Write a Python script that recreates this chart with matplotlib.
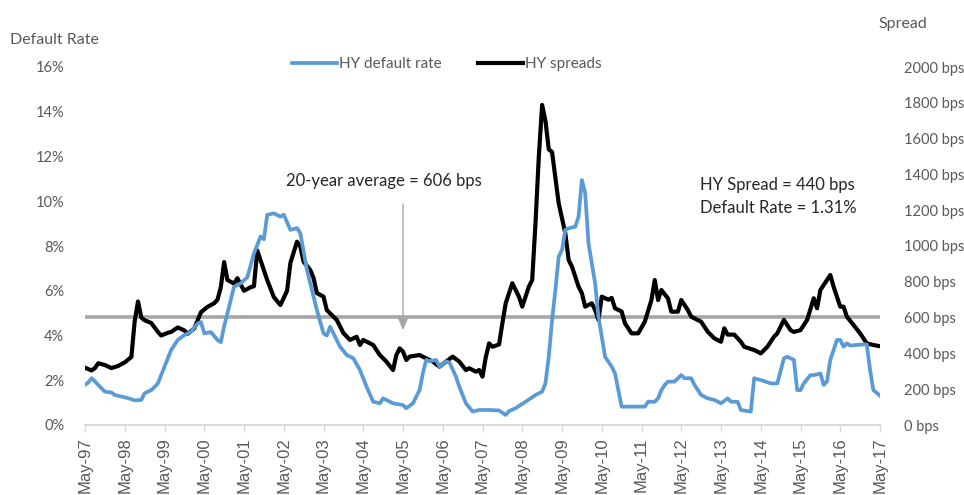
import matplotlib
matplotlib.use("Agg")
import matplotlib.pyplot as plt
from matplotlib.lines import Line2D

plt.rcParams["font.family"] = ["Lato", "DejaVu Sans"]

# Months counted from May-1997
spread_month = [0, 1, 2, 3, 4, 6, 8, 10, 12, 14, 15, 16, 17, 18, 20, 22, 23, 25, 26, 28,
                30, 31, 33, 35, 37, 39, 40, 41, 42, 43, 45, 46, 48, 50, 51, 52, 53, 55, 57, 59,
                61, 62, 64, 65, 66, 68, 69, 70, 72, 73, 76, 78, 80, 82, 83, 84, 87, 89, 91, 93,
                94, 95, 96, 97, 98, 101, 103, 105, 107, 109, 111, 113, 115, 116, 118, 119, 120, 121, 122, 123,
                125, 126, 127, 129, 131, 132, 134, 135, 136, 137, 138, 139, 140, 141, 143, 145, 146, 147, 149, 150,
                151, 153, 154, 155, 156, 158, 159, 160, 162, 163, 165, 167, 169, 171, 172, 173, 174, 176, 177, 179,
                180, 182, 183, 186, 188, 190, 192, 193, 194, 196, 198, 199, 202, 204, 206, 208, 209, 211, 213, 214,
                216, 218, 220, 221, 222, 225, 226, 228, 229, 230, 232, 234, 236, 238, 240]
spread_bps = [320, 312, 305, 318, 345, 335, 318, 330, 350, 380, 580, 690, 600, 585, 570, 520, 500, 515, 520, 545,
              528, 510, 540, 630, 660, 680, 700, 770, 910, 810, 790, 820, 750, 770, 775, 975, 920, 810, 715, 670,
              750, 905, 1024, 996, 912, 866, 821, 737, 717, 642, 587, 514, 475, 493, 447, 475, 447, 391, 354, 307,
              391, 428, 410, 363, 382, 391, 372, 354, 326, 354, 382, 354, 307, 317, 298, 307, 270, 380, 456, 437,
              450, 568, 680, 792, 717, 661, 773, 810, 1128, 1499, 1788, 1700, 1540, 1525, 1239, 1071, 922, 885, 773, 736,
              661, 680, 642, 587, 717, 700, 710, 652, 634, 568, 512, 512, 577, 698, 810, 698, 754, 707, 633, 633,
              698, 642, 605, 577, 521, 484, 465, 540, 505, 505, 465, 437, 419, 400, 437, 493, 512, 587, 530, 520,
              530, 587, 708, 652, 754, 838, 772, 661, 661, 605, 559, 512, 456, 447, 440]

default_month = [0, 1, 2, 3, 4, 6, 8, 9, 11, 13, 15, 17, 18, 20, 21, 22, 24, 26, 28, 30,
                 32, 34, 35, 36, 38, 40, 41, 42, 43, 45, 47, 49, 51, 53, 54, 55, 57, 59, 60, 62,
                 64, 65, 67, 69, 70, 72, 73, 74, 75, 77, 79, 81, 83, 85, 87, 89, 90, 93, 96, 97,
                 99, 100, 101, 102, 103, 104, 106, 107, 109, 110, 112, 113, 115, 117, 119, 122, 125, 127, 128, 130,
                 133, 136, 138, 139, 140, 141, 142, 143, 144, 145, 146, 148, 149, 150, 151, 152, 154, 155, 157, 159,
                 160, 162, 164, 169, 170, 172, 173, 174, 175, 176, 178, 180, 181, 183, 184, 186, 188, 190, 192, 194,
                 195, 197, 198, 201, 202, 204, 207, 209, 211, 212, 214, 215, 216, 217, 219, 220, 222, 223, 224, 225,
                 227, 228, 229, 230, 231, 233, 235, 236, 237, 238, 240]
default_pct = [1.80, 1.90, 2.09, 1.95, 1.79, 1.49, 1.45, 1.34, 1.27, 1.20, 1.10, 1.12, 1.42, 1.56, 1.70, 1.86, 2.61, 3.35, 3.80, 4.02,
               4.17, 4.54, 4.60, 4.10, 4.15, 3.80, 3.70, 4.40, 4.99, 6.18, 6.33, 6.60, 7.67, 8.42, 8.30, 9.39, 9.46, 9.31, 9.40, 8.72,
               8.80, 8.57, 6.93, 5.73, 5.14, 4.10, 4.00, 4.39, 4.10, 3.50, 3.13, 2.98, 2.46, 1.71, 1.04, 0.97, 1.19, 0.97, 0.89, 0.75,
               0.97, 1.27, 1.56, 2.31, 2.91, 2.85, 2.91, 2.61, 2.83, 2.80, 2.16, 1.71, 0.97, 0.60, 0.67, 0.67, 0.65, 0.45, 0.62, 0.75,
               1.04, 1.34, 1.49, 1.86, 3.05, 4.69, 6.03, 7.52, 7.82, 8.72, 8.79, 8.86, 9.31, 10.95, 10.36, 8.12, 6.33, 4.84, 3.05, 2.61,
               2.31, 0.82, 0.82, 0.82, 1.04, 1.04, 1.19, 1.56, 1.79, 1.94, 1.94, 2.23, 2.09, 2.09, 1.79, 1.34, 1.19, 1.12, 0.97, 1.19,
               1.04, 1.04, 0.67, 0.60, 2.09, 2.01, 1.86, 1.86, 2.98, 3.05, 2.91, 1.56, 1.56, 1.86, 2.23, 2.23, 2.30, 1.79, 1.95, 2.91,
               3.80, 3.80, 3.50, 3.65, 3.55, 3.58, 3.60, 3.60, 2.46, 1.56, 1.31]

average_spread = 606
tick_labels = ["May-97", "May-98", "May-99", "May-00", "May-01", "May-02", "May-03",
               "May-04", "May-05", "May-06", "May-07", "May-08", "May-09", "May-10",
               "May-11", "May-12", "May-13", "May-14", "May-15", "May-16", "May-17"]
left_ticks = [0, 2, 4, 6, 8, 10, 12, 14, 16]
right_ticks = [0, 200, 400, 600, 800, 1000, 1200, 1400, 1600, 1800, 2000]

BLUE = "#5b9bd5"
GREY_TXT = "#595959"
DARK_TXT = "#262626"
AVG_GREY = "#a6a6a6"

fig = plt.figure(figsize=(9.64, 4.95), dpi=100)
W, H = 964, 495
ax = fig.add_axes([85 / W, 1 - 425 / H, 795 / W, 358 / H])
ax2 = ax.twinx()

n_months = 12 * (len(tick_labels) - 1)
ax.set_xlim(0, n_months)
ax.set_ylim(0, 16)
ax2.set_ylim(0, 2000)

# Average line and series
ax2.plot([0, n_months], [average_spread, average_spread], color=AVG_GREY, lw=2.6,
         solid_capstyle="butt", zorder=1)
ax.plot(default_month, default_pct, color=BLUE, lw=2.7, zorder=2)
ax2.plot(spread_month, spread_bps, color="black", lw=3.0, zorder=3)
ax.set_zorder(ax2.get_zorder() + 1)
ax.patch.set_visible(False)

# Axes styling
for a in (ax, ax2):
    for side in ("top", "left", "right"):
        a.spines[side].set_visible(False)
    a.spines["bottom"].set_color("#d9d9d9")
    a.spines["bottom"].set_linewidth(1.2)

ax.set_xticks(range(0, n_months + 1, 12))
ax.set_xticklabels(tick_labels, rotation=90, fontsize=12, color=GREY_TXT,
                   family=["Liberation Sans", "DejaVu Sans"])
ax.tick_params(axis="x", length=5, width=1.0, color="#d9d9d9", pad=4)

ax.set_yticks(left_ticks)
ax.set_yticklabels([f"{v}%" for v in left_ticks], fontsize=10.5, color=GREY_TXT)
ax.tick_params(axis="y", length=0, pad=15)
ax2.set_yticks(right_ticks)
ax2.set_yticklabels([f"{v} bps" for v in right_ticks], fontsize=10.5, color=GREY_TXT)
ax2.tick_params(axis="y", length=0, pad=17)

# Axis titles
fig.text(10 / W, 1 - 40 / H, "Default Rate", fontsize=11.5, color=GREY_TXT, va="center", ha="left")
fig.text(878 / W, 1 - 24 / H, "Spread", fontsize=11.5, color=GREY_TXT, va="center", ha="left")

# Legend
handles = [Line2D([], [], color=BLUE, lw=2.7), Line2D([], [], color="black", lw=3.0)]
fig.legend(handles, ["HY default rate", "HY spreads"], loc="center",
           bbox_to_anchor=(447 / W, 1 - 64 / H), ncol=2, frameon=False,
           fontsize=11, labelcolor=GREY_TXT, handlelength=2.9, handletextpad=0.15,
           columnspacing=2.4)

# Average annotation
ax2.annotate("", xy=(96, 530), xytext=(96, 1235),
             arrowprops=dict(arrowstyle="-|>,head_length=0.7,head_width=0.3",
                             color=AVG_GREY, lw=1.0, shrinkA=0, shrinkB=0))
fig.text(384 / W, 1 - 181 / H, f"20-year average = {average_spread} bps", fontsize=12,
         color=DARK_TXT, ha="center", va="center")

# Latest values
fig.text(700 / W, 1 - 185 / H, f"HY Spread = {spread_bps[-1]} bps", fontsize=12,
         color=DARK_TXT, ha="left", va="center")
fig.text(700 / W, 1 - 208 / H, f"Default Rate = {default_pct[-1]:.2f}%", fontsize=12,
         color=DARK_TXT, ha="left", va="center")

fig.savefig("out.png", dpi=100, facecolor="white")
